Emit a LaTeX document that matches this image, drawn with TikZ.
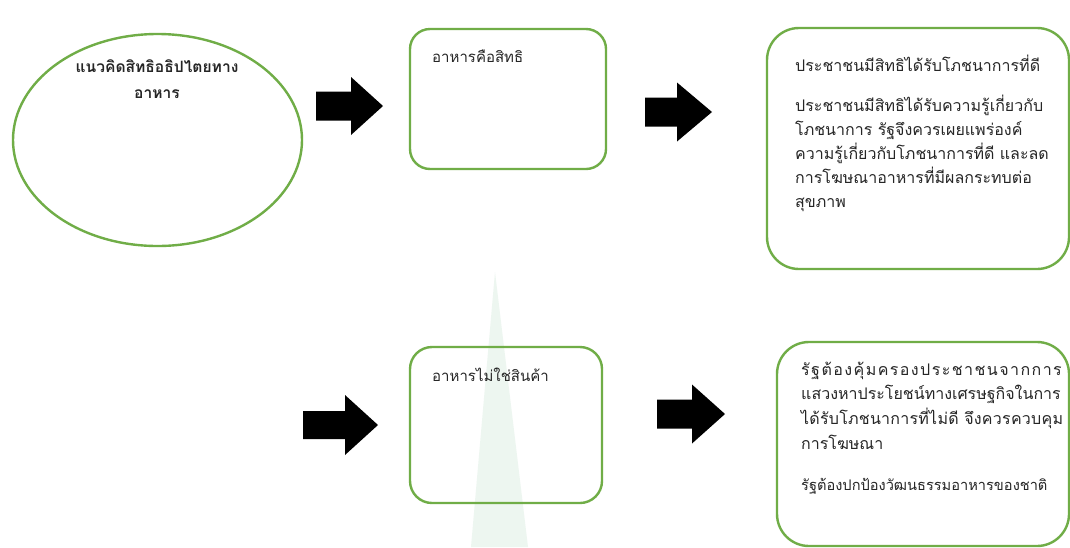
\documentclass[tikz,border=0pt]{standalone}
\usepackage{fontspec}
\newfontfamily\thai[Script=Thai]{Loma}
\newfontfamily\thaiwide[Script=Thai,LetterSpace=9]{Loma}
\newfontfamily\thaimid[Script=Thai,LetterSpace=1.5]{Loma}
\usetikzlibrary{shapes.geometric}
\definecolor{boxgreen}{HTML}{70AD47}
\definecolor{wmgreen}{HTML}{EDF6F0}
\tikzset{
  gbox/.style={draw=boxgreen, line width=2.4pt, rectangle, inner sep=0pt},
  gell/.style={draw=boxgreen, line width=2.4pt, ellipse, inner sep=0pt},
  thtext/.style={font=\thai\fontsize{16}{24}\selectfont, text=black!85, inner sep=0pt, align=left},
  smalltext/.style={thtext, font=\thai\fontsize{15}{24}\selectfont},
  blockarrow/.style={fill=black},
}
\newcommand{\blockarr}[6]{% x1, xhead, x2, yc, body half, head half
  \fill[blockarrow] (#1,#4-#5) -- (#2,#4-#5) -- (#2,#4-#6) -- (#3,#4) -- (#2,#4+#6) -- (#2,#4+#5) -- (#1,#4+#5) -- cycle;}
\begin{document}
\begin{tikzpicture}[x=1pt,y=-1pt]
\useasboundingbox (0,0) rectangle (1070,547);
\fill[white] (0,0) rectangle (1070,547);
% watermark
\fill[wmgreen] (495,272) -- (528,547) -- (471,547) -- cycle;
% shapes
\node[gell, minimum width=289pt, minimum height=212pt] (e) at (157.5,140) {};
\node[gbox, rounded corners=20pt, minimum width=196pt, minimum height=140pt] (b1) at (508,99) {};
\node[gbox, rounded corners=32pt, minimum width=302pt, minimum height=241pt] (b2) at (918,148.5) {};
\node[gbox, rounded corners=22pt, minimum width=192pt, minimum height=156pt] (b3) at (506,425) {};
\node[gbox, rounded corners=32pt, minimum width=292pt, minimum height=204pt] (b4) at (923,444) {};
% texts
\node[thtext, font=\thai\bfseries\fontsize{15.6}{26}\selectfont, align=center, anchor=north] (te) at (157,60) {แนวคิดสิทธิอธิปไตยทาง\\อาหาร};
\node[smalltext, anchor=west] (t1) at (432,56) {อาหารคือสิทธิ};
\node[thtext, anchor=west] (t2a) at (795,63) {ประชาชนมีสิทธิได้รับโภชนาการที่ดี};
\node[thtext, anchor=north west] (t2b) at (795,95) {ประชาชนมีสิทธิได้รับความรู้เกี่ยวกับ\\โภชนาการ รัฐจึงควรเผยแพร่องค์\\ความรู้เกี่ยวกับโภชนาการที่ดี และลด\\การโฆษณาอาหารที่มีผลกระทบต่อ\\สุขภาพ};
\node[smalltext, anchor=west] (t3) at (432,375) {อาหารไม่ใช่สินค้า};
\node[thtext, font=\thai\fontsize{16}{24.7}\selectfont, anchor=north west] (t4a) at (801,361.5) {{\thaiwide รัฐต้องคุ้มครองประชาชนจากการ}\\แสวงหาประโยชน์ทางเศรษฐกิจในการ\\{\thaimid ได้รับโภชนาการที่ไม่ดี จึงควรควบคุม}\\การโฆษณา};
\node[thtext, font=\thai\fontsize{14.6}{24}\selectfont, anchor=west] (t4b) at (801,486) {รัฐต้องปกป้องวัฒนธรรมอาหารของชาติ};
% block arrows
\blockarr{316}{351}{383}{106}{14.5}{29}
\blockarr{645}{677}{712}{112}{14.5}{29.5}
\blockarr{303}{345}{378}{425}{14}{30}
\blockarr{657}{692}{725}{414}{14.5}{29.5}
\end{tikzpicture}
\end{document}
